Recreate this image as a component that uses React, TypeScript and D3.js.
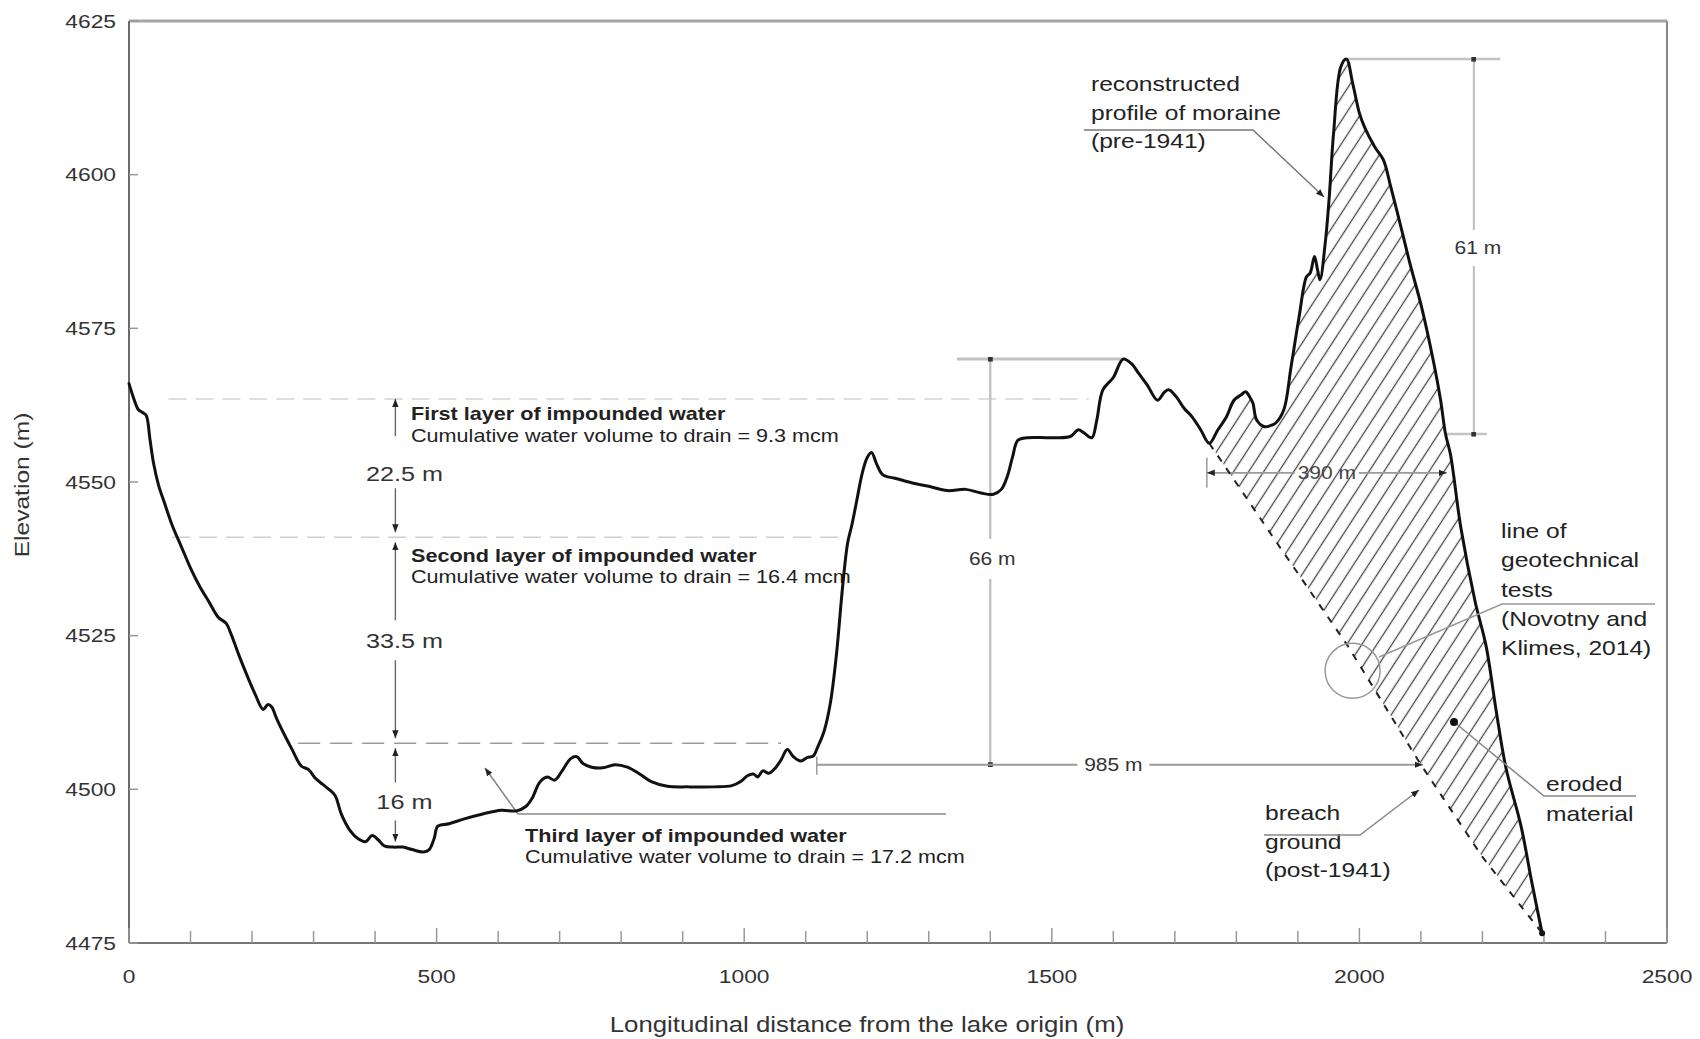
import React from "react";
import * as d3 from "d3";

// Longitudinal profile of the lake basin and moraine dam (distance m, elevation m a.s.l.)
const profileDistance = [
  0, 8, 15, 22, 28, 34, 40, 48, 58, 70, 85, 100, 115, 130, 145, 158, 165, 178, 192, 205,
  218, 226, 232, 240, 252, 265, 280, 292, 303, 315, 325, 335, 345, 358, 372, 385, 395, 405, 415, 430,
  445, 460, 478, 488, 496, 502, 520, 545, 575, 605, 630, 645, 655, 668, 680, 692, 704, 718, 728, 738,
  752, 770, 790, 810, 830, 850, 875, 910, 950, 980, 995, 1005, 1015, 1022, 1030, 1040, 1050, 1060, 1070, 1080,
  1092, 1103, 1112, 1120, 1130, 1140, 1150, 1160, 1168, 1175, 1183, 1192, 1200, 1207, 1215, 1225, 1245, 1275, 1300, 1330,
  1360, 1385, 1405, 1418, 1428, 1436, 1445, 1460, 1500, 1530, 1543, 1552, 1565, 1573, 1583, 1600, 1616, 1630, 1641, 1655,
  1672, 1683, 1690, 1702, 1715, 1728, 1742, 1756, 1770, 1784, 1796, 1808, 1815, 1822, 1827, 1833, 1846, 1856, 1864, 1877,
  1889, 1902, 1914, 1920, 1927, 1932, 1936, 1945, 1951, 1958, 1970, 1979, 1989, 2000, 2008, 2025, 2039, 2051, 2070, 2082,
  2101, 2120, 2132, 2140, 2148, 2165, 2188, 2206, 2222, 2238, 2263, 2280, 2297,
];
const profileElevation = [
  4566, 4563.5, 4561.8, 4561.3, 4560.8, 4557, 4553, 4549.5, 4546.5, 4543, 4539.5, 4536, 4533, 4530.5, 4528, 4527, 4525.5, 4522, 4518.5, 4515.5,
  4513, 4513.8, 4513.4, 4511.5, 4509, 4506.5, 4503.8, 4503.2, 4501.8, 4500.8, 4500, 4499, 4496, 4493.5, 4492, 4491.5, 4492.5, 4491.8, 4490.8, 4490.6,
  4490.6, 4490.2, 4489.8, 4490.2, 4492, 4494, 4494.4, 4495.2, 4496, 4496.6, 4496.5, 4497.2, 4498.5, 4501.2, 4502, 4501.5, 4503, 4505, 4505.3, 4504.2,
  4503.6, 4503.5, 4504, 4503.6, 4502.5, 4501.2, 4500.5, 4500.4, 4500.4, 4500.6, 4501.3, 4502.2, 4502.5, 4502, 4503, 4502.6, 4503.4, 4504.8, 4506.5, 4505.3,
  4504.6, 4505.2, 4505.4, 4507, 4509.5, 4514, 4522, 4533, 4540, 4543, 4547, 4551.5, 4554, 4554.8, 4553, 4551.2, 4550.6, 4549.8, 4549.3, 4548.6,
  4548.8, 4548.2, 4548, 4548.8, 4551, 4554, 4556.8, 4557.2, 4557.2, 4557.4, 4558.5, 4558, 4557.2, 4560, 4565, 4567, 4570, 4569.2, 4567.7, 4565.8,
  4563.3, 4564.6, 4565, 4563.9, 4562, 4560.6, 4558.5, 4556.3, 4558.5, 4560.6, 4563.3, 4564.2, 4564.7, 4563.8, 4562.8, 4560.1, 4559, 4559.2, 4559.6, 4561.7,
  4568.8, 4576.9, 4583.4, 4584, 4586.7, 4584.5, 4582.9, 4589.4, 4596.4, 4606.7, 4617.6, 4618.8, 4614.9, 4610, 4607.8, 4604.5, 4602.4, 4598, 4590.5, 4585.6,
  4578.5, 4569.8, 4563.3, 4557.8, 4554.5, 4542.5, 4530.6, 4523.3, 4513, 4503.6, 4493.9, 4485, 4476.6,
];

// Breach ground after the 1941 outburst
const breachDistance = [1756, 1870, 1980, 2100, 2200, 2297];
const breachElevation = [4556.3, 4539.5, 4523.5, 4504, 4489, 4476.6];

// Impounded water layers: surface levels and drained volumes (mcm)
const layerLevels = [4563.5, 4541, 4507.5, 4491.5];
const layerNames = ["First", "Second", "Third"];
const layerVolumes = [9.3, 16.4, 17.2];

// Dam dimensions
const basinBase = 4504;
const basinRise = 66;
const basinSpanStart = 1118;
const basinSpanLength = 985;
const crestTop = 4618.8;
const crestDrop = 61;
const crestWidthStart = 1752;
const crestWidth = 390;
const crestWidthLevel = 4551.5;

const xTicks = [0, 500, 1000, 1500, 2000, 2500];
const xMinorTicks = d3.range(0, 2501, 100);
const yTicks = [4475, 4500, 4525, 4550, 4575, 4600, 4625];

const W = 1700;
const H = 1039;
const SX = 1.2;
const FONT = "'Liberation Sans', Arial, Helvetica, sans-serif";

const x = d3.scaleLinear().domain([0, 2500]).range([129, 1667]);
const y = d3.scaleLinear().domain([4475, 4625]).range([943, 21]);

type LabelProps = {
  x: number;
  y: number;
  size: number;
  anchor?: "start" | "middle" | "end";
  weight?: number;
  fill?: string;
  middle?: boolean;
  children: React.ReactNode;
};

function Label({ x, y, size, anchor = "start", weight = 400, fill = "#222", middle = false, children }: LabelProps) {
  return (
    <text
      transform={`translate(${x},${y}) scale(${SX},1)`}
      fontSize={size}
      fontFamily={FONT}
      textAnchor={anchor}
      fontWeight={weight}
      fill={fill}
      dominantBaseline={middle ? "central" : "auto"}
    >
      {children}
    </text>
  );
}

const fmt = (v: number) => String(+v.toFixed(1));

export default function App() {
  const profile: [number, number][] = profileDistance.map((d, i) => [d, profileElevation[i]]);
  const breach: [number, number][] = breachDistance.map((d, i) => [d, breachElevation[i]]);

  const profileLine = d3
    .line<[number, number]>()
    .x((d) => x(d[0]))
    .y((d) => y(d[1]))
    .curve(d3.curveCatmullRom.alpha(0.5));
  const straight = d3
    .line<[number, number]>()
    .x((d) => x(d[0]))
    .y((d) => y(d[1]));

  const eroded: [number, number][] = [
    ...profile.filter((p) => p[0] >= breachDistance[0]),
    ...breach.slice(1, -1).reverse(),
  ];

  // vertical layer-thickness arrows
  const ax = x(433);
  const yl = layerLevels.map((v) => y(v));
  const thick = [0, 1, 2].map((i) => layerLevels[i] - layerLevels[i + 1]);
  const labelY = [(yl[0] + yl[1]) / 2 + 6, (yl[1] + yl[2]) / 2, (yl[2] + yl[3]) / 2 + 9];
  const gapUp = [38, 20, 19];
  const gapDown = [14, 20, 19];

  const dimGray = "#9a9a9a";

  // 66 m and 985 m dimensions
  const vx = x(1400);
  const baseY = y(basinBase);
  const riseY = y(basinBase + basinRise);
  const riseLabelY = (baseY + riseY) / 2 - 3;
  const spanX0 = x(basinSpanStart);
  const spanX1 = x(basinSpanStart + basinSpanLength);
  const spanLabelX = x(1600);

  // 61 m and 390 m dimensions
  const cx = x(2186);
  const crestY = y(crestTop);
  const crestBaseY = y(crestTop - crestDrop);
  const crestLabelY = 248;
  const wY = y(crestWidthLevel);
  const wX0 = x(crestWidthStart);
  const wX1 = x(crestWidthStart + crestWidth);
  const wLabelX = (wX0 + wX1) / 2;

  return (
    <svg
      width={W}
      height={H}
      viewBox={`0 0 ${W} ${H}`}
      style={{ position: "absolute", left: 0, top: 0, background: "#fff" }}
    >
      <defs>
        <marker
          id="tip"
          viewBox="0 0 10 10"
          refX="10"
          refY="5"
          markerWidth="8"
          markerHeight="8"
          markerUnits="userSpaceOnUse"
          orient="auto-start-reverse"
        >
          <path d="M0,1 L10,5 L0,9 z" fill="#222" />
        </marker>
        <marker
          id="dot"
          viewBox="0 0 10 10"
          refX="5"
          refY="5"
          markerWidth="5"
          markerHeight="5"
          markerUnits="userSpaceOnUse"
        >
          <rect x="0" y="0" width="10" height="10" fill="#333" />
        </marker>
        <pattern
          id="hatch"
          width="12.6"
          height="20"
          patternUnits="userSpaceOnUse"
          patternTransform="rotate(33)"
        >
          <line x1="6.3" y1="0" x2="6.3" y2="20" stroke="#444" strokeWidth="1.3" />
        </pattern>
      </defs>

      <rect x={0} y={0} width={W} height={H} fill="#fff" />

      {/* eroded moraine material */}
      <path d={straight(eroded) + "Z"} fill="url(#hatch)" stroke="none" />

      {/* water-level lines */}
      <line x1={x(64)} x2={x(1560)} y1={yl[0]} y2={yl[0]} stroke="#d4d4d4" strokeWidth={1.5} strokeDasharray="18 9" />
      <line x1={x(70)} x2={x(1165)} y1={yl[1]} y2={yl[1]} stroke="#d0d0d0" strokeWidth={1.5} strokeDasharray="18 9" />
      <line x1={x(275)} x2={x(1060)} y1={yl[2]} y2={yl[2]} stroke="#9a9a9a" strokeWidth={1.6} strokeDasharray="22 10" />

      {/* frame */}
      <line x1={129} x2={1667} y1={21} y2={21} stroke="#a5a5a5" strokeWidth={3} />
      <line x1={129} x2={129} y1={21} y2={943} stroke="#6a6a6a" strokeWidth={2} />
      <line x1={129} x2={1667} y1={943} y2={943} stroke="#777" strokeWidth={2} />
      <line x1={1667} x2={1667} y1={21} y2={943} stroke="#888" strokeWidth={2} />

      {/* axes ticks and labels */}
      {yTicks.map((t) => (
        <g key={"y" + t}>
          <line x1={129} x2={138} y1={y(t)} y2={y(t)} stroke="#999" strokeWidth={1.5} />
          <Label x={116} y={y(t)} size={19} anchor="end" middle fill="#333">
            {t}
          </Label>
        </g>
      ))}
      {xMinorTicks.map((t) => (
        <line
          key={"xm" + t}
          x1={x(t)}
          x2={x(t)}
          y1={943}
          y2={943 - (t % 500 === 0 ? 15 : 12)}
          stroke="#999"
          strokeWidth={1.5}
        />
      ))}
      {xTicks.map((t) => (
        <Label key={"x" + t} x={x(t)} y={983} size={19} anchor="middle" fill="#333">
          {t}
        </Label>
      ))}
      <Label x={867} y={1032} size={21.5} anchor="middle" fill="#333">
        Longitudinal distance from the lake origin (m)
      </Label>
      <text
        transform="translate(29,485) rotate(-90) scale(1.17,1)"
        fontSize={21}
        fontFamily={FONT}
        textAnchor="middle"
        fill="#333"
      >
        Elevation (m)
      </text>

      {/* layer thickness arrows */}
      {[0, 1, 2].map((i) => (
        <g key={"arr" + i}>
          <line
            x1={ax}
            x2={ax}
            y1={labelY[i] - gapUp[i]}
            y2={yl[i] + (i === 0 ? 0 : 5)}
            stroke="#666"
            strokeWidth={1.4}
            markerEnd="url(#tip)"
          />
          <line
            x1={ax}
            x2={ax}
            y1={labelY[i] + gapDown[i]}
            y2={yl[i + 1] - (i === 2 ? 0 : 5)}
            stroke="#666"
            strokeWidth={1.4}
            markerEnd="url(#tip)"
          />
          <Label x={ax + 9} y={labelY[i]} size={21} anchor="middle" middle fill="#333">
            {fmt(thick[i]) + " m"}
          </Label>
        </g>
      ))}

      {/* layer descriptions */}
      <Label x={411} y={yl[0] + 21} size={18} weight={700}>
        {layerNames[0]} layer of impounded water
      </Label>
      <Label x={411} y={yl[0] + 43} size={18}>
        {"Cumulative water volume to drain = " + layerVolumes[0] + " mcm"}
      </Label>
      <Label x={411} y={yl[1] + 25} size={18} weight={700}>
        {layerNames[1]} layer of impounded water
      </Label>
      <Label x={411} y={yl[1] + 46} size={18}>
        {"Cumulative water volume to drain = " + layerVolumes[1] + " mcm"}
      </Label>
      <Label x={525} y={842} size={18} weight={700}>
        {layerNames[2]} layer of impounded water
      </Label>
      <Label x={525} y={863} size={18}>
        {"Cumulative water volume to drain = " + layerVolumes[2] + " mcm"}
      </Label>
      <polyline points="946,814 518,814 485,768" fill="none" stroke="#888" strokeWidth={1.5} markerEnd="url(#tip)" />

      {/* 66 m / 985 m dimensions */}
      <line x1={957} x2={x(1616)} y1={riseY} y2={riseY} stroke="#c2c2c2" strokeWidth={3} />
      <line x1={vx} x2={vx} y1={riseY} y2={riseLabelY - 20} stroke="#bdbdbd" strokeWidth={2.2} markerStart="url(#dot)" />
      <line x1={vx} x2={vx} y1={riseLabelY + 20} y2={baseY} stroke="#bdbdbd" strokeWidth={2.2} markerEnd="url(#dot)" />
      <Label x={vx + 2} y={riseLabelY} size={17.5} anchor="middle" middle fill="#333">
        {basinRise + " m"}
      </Label>
      <line x1={spanX0} x2={spanX0} y1={baseY - 8} y2={baseY + 10} stroke={dimGray} strokeWidth={1.5} />
      <line x1={spanX0} x2={spanLabelX - 36} y1={baseY} y2={baseY} stroke={dimGray} strokeWidth={2} />
      <line x1={spanLabelX + 36} x2={spanX1} y1={baseY} y2={baseY} stroke={dimGray} strokeWidth={2} markerEnd="url(#tip)" />
      <Label x={spanLabelX} y={baseY} size={17.5} anchor="middle" middle fill="#333">
        {basinSpanLength + " m"}
      </Label>

      {/* 61 m / 390 m dimensions */}
      <line x1={x(1979)} x2={x(2229)} y1={crestY} y2={crestY} stroke="#c2c2c2" strokeWidth={2.5} />
      <line x1={x(2140)} x2={x(2207)} y1={crestBaseY} y2={crestBaseY} stroke="#c2c2c2" strokeWidth={2.5} />
      <line x1={cx} x2={cx} y1={crestY} y2={crestLabelY - 18} stroke="#bdbdbd" strokeWidth={2} markerStart="url(#dot)" />
      <line x1={cx} x2={cx} y1={crestLabelY + 18} y2={crestBaseY} stroke="#bdbdbd" strokeWidth={2} markerEnd="url(#dot)" />
      <Label x={cx + 4} y={crestLabelY} size={17.5} anchor="middle" middle fill="#333">
        {crestDrop + " m"}
      </Label>
      <line x1={wX0} x2={wX0} y1={wY - 15} y2={wY + 15} stroke={dimGray} strokeWidth={1.5} />
      <line x1={wX0} x2={wLabelX - 32} y1={wY} y2={wY} stroke={dimGray} strokeWidth={1.8} markerStart="url(#tip)" />
      <line x1={wLabelX + 32} x2={wX1} y1={wY} y2={wY} stroke={dimGray} strokeWidth={1.8} markerEnd="url(#tip)" />
      <Label x={wLabelX} y={wY} size={17.5} anchor="middle" middle fill="#444">
        {crestWidth + " m"}
      </Label>

      {/* breach ground (post-1941) */}
      <path d={straight(breach) ?? ""} fill="none" stroke="#222" strokeWidth={2} strokeDasharray="7 8" />

      {/* reconstructed moraine profile */}
      <path
        d={profileLine(profile) ?? ""}
        fill="none"
        stroke="#111"
        strokeWidth={3}
        strokeLinejoin="round"
        strokeLinecap="round"
      />
      <circle cx={x(2297)} cy={y(4476.6)} r={3} fill="#111" />

      {/* annotations, right side */}
      <Label x={1091} y={91} size={20.5}>reconstructed</Label>
      <Label x={1091} y={120} size={20.5}>profile of moraine</Label>
      <Label x={1091} y={147.5} size={20.5}>(pre-1941)</Label>
      <polyline points="1084,130 1253,130 1324,197" fill="none" stroke="#777" strokeWidth={1.5} markerEnd="url(#tip)" />

      <Label x={1501} y={538} size={20.5}>line of</Label>
      <Label x={1501} y={567} size={20.5}>geotechnical</Label>
      <Label x={1501} y={597} size={20.5}>tests</Label>
      <Label x={1501} y={626} size={20.5}>(Novotny and</Label>
      <Label x={1501} y={655} size={20.5}>Klimes, 2014)</Label>
      <polyline points="1655,604 1502,604 1379,657" fill="none" stroke="#999" strokeWidth={1.5} />
      <circle cx={1352.6} cy={670.8} r={27.5} fill="none" stroke="#999" strokeWidth={1.5} />

      <Label x={1546} y={791} size={20.5}>eroded</Label>
      <Label x={1546} y={821} size={20.5}>material</Label>
      <polyline points="1636,796 1544,796 1454,722" fill="none" stroke="#888" strokeWidth={1.5} />
      <circle cx={1454} cy={722} r={4} fill="#111" />

      <Label x={1265} y={820} size={20.5}>breach</Label>
      <Label x={1265} y={849} size={20.5}>ground</Label>
      <Label x={1265} y={877} size={20.5}>(post-1941)</Label>
      <polyline points="1264,835 1360,835 1419,790" fill="none" stroke="#888" strokeWidth={1.5} markerEnd="url(#tip)" />
    </svg>
  );
}
